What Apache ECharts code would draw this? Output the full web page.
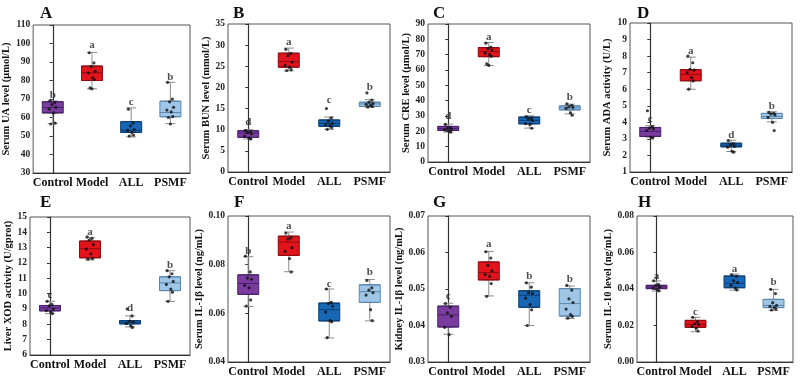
<!DOCTYPE html>
<html><head><meta charset="utf-8">
<script src="https://cdn.jsdelivr.net/npm/echarts@6/dist/echarts.min.js"></script>
<style>html,body{margin:0;padding:0;background:#fff}#c{width:800px;height:379px}</style>
</head><body><div id="c"></div>
<script>
const CATS = ['Control','Model','ALL','PSMF'];

// [min, Q1, median, Q3, max]
const A_BOX = [[56.7,62.5,65.4,68.5,69],[75.5,80,84.2,87.8,95.2],[49.5,51.9,53.1,57.7,65.2],[56.7,60.4,62.7,68.8,79]];
const A_PTS = [[69,68,67,65.5,64.5,62.5,57,56.5],[95,89.5,87.5,85,84,81.5,80.5,76,75.5],[64.5,57,55.5,53.5,53,52,50.5,50],[79,70,68.5,65.5,64,63,60.5,60,56.5]];
const A_LET = ['b','a','c','b'];
const A_LETY = [72.1,99.2,68.5,82];
const A_AXIS = [30,110,10];

const B_BOX = [[7.8,8.2,9.2,9.75,10],[23.9,24.8,26.1,28.1,29.3],[10.1,10.8,11.5,12.3,13],[15.3,15.5,16.1,16.5,17.1]];
const B_PTS = [[9.8,9.5,9.3,9,8.5,8,7.8],[29,28,27.5,26,25.2,24.8,24.2,24],[15,12.8,12,11.5,11.2,11,10.5,10.1],[18.7,17,16.5,16.2,16,15.8,15.5,15.4]];
const B_LET = ['d','a','c','b'];
const B_LETY = [11.8,30.6,17.1,20];
const B_AXIS = [0,35,5];

const C_BOX = [[19.5,20.6,21.9,23.2,24.7],[62.9,68.7,72,74.6,77.9],[22.1,24.9,27.1,29.3,30.1],[31.4,34,35.3,36.6,37.7]];
const C_PTS = [[24.5,22.5,22,21.5,21,20,19.5],[77.5,75,74,73,71,70,69,64,63],[29.5,28.5,28,27,25,24.5,22],[38,37,36,35.5,35,32,30.5]];
const C_LET = ['d','a','c','b'];
const C_LETY = [29.7,81.3,34,42.3];
const C_AXIS = [0,90,10];

const D_BOX = [[3.1,3.15,3.45,3.69,3.8],[6.0,6.51,6.9,7.18,7.94],[2.24,2.52,2.62,2.74,2.92],[4.03,4.23,4.35,4.54,4.64]];
const D_PTS = [[4.7,3.75,3.65,3.6,3.5,3.1,3.05],[8.0,7.6,7.2,7.15,7.0,6.7,6.5,6.0],[2.9,2.7,2.65,2.55,2.5,2.25,2.2],[4.6,4.55,4.5,4.45,4.3,4.0,3.5]];
const D_LET = ['c','a','d','b'];
const D_LETY = [4.2,8.3,3.25,5.0];
const D_AXIS = [1,10,1];

const E_BOX = [[8.7,8.88,9.07,9.23,9.5],[12.2,12.34,12.93,13.43,13.65],[7.83,8.03,8.14,8.25,8.55],[9.5,10.2,10.7,11.1,11.5]];
const E_PTS = [[9.5,9.3,9.2,9.0,8.9,8.8,8.7],[13.7,13.6,13.5,13.2,12.9,12.6,12.3,12.25],[9.0,8.55,8.2,8.15,8.05,7.9,7.8],[11.5,11.3,11.1,10.8,10.6,10.3,10.1,9.5]];
const E_LET = ['c','a','d','b'];
const E_LETY = [9.92,14.0,9.07,11.88];
const E_AXIS = [6,15,1];

const F_BOX = [[0.0628,0.0678,0.0723,0.0758,0.0833],[0.0771,0.0838,0.0893,0.0917,0.0934],[0.0499,0.0569,0.0615,0.0642,0.070],[0.0569,0.0645,0.0689,0.0717,0.0739]];
const F_PTS = [[0.0835,0.077,0.0745,0.074,0.0715,0.0705,0.0655,0.063],[0.093,0.091,0.0905,0.087,0.0855,0.0825,0.077],[0.070,0.0645,0.064,0.063,0.0605,0.057,0.0565,0.050],[0.0735,0.0705,0.0695,0.0685,0.0675,0.0615,0.057]];
const F_LET = ['b','a','c','b'];
const F_LETY = [0.0854,0.0957,0.0718,0.0769];
const F_AXIS = [0.04,0.10,0.02];

const G_BOX = [[0.0376,0.0396,0.0429,0.0453,0.0461],[0.0481,0.0525,0.0545,0.0574,0.0603],[0.040,0.045,0.0483,0.0495,0.0517],[0.0419,0.0426,0.046,0.0501,0.0508]];
const G_PTS = [[0.046,0.045,0.0435,0.0425,0.0395,0.0375],[0.0602,0.0585,0.0565,0.055,0.054,0.0535,0.0515,0.048],[0.0517,0.0505,0.049,0.0488,0.0475,0.0457,0.0443,0.040],[0.051,0.0497,0.0473,0.0463,0.0445,0.043,0.0425,0.042]];
const G_LET = ['c','a','b','b'];
const G_LETY = [0.0481,0.0622,0.0534,0.0527];
const G_AXIS = [0.03,0.07,0.01];

const H_BOX = [[0.0389,0.0402,0.0411,0.042,0.0444],[0.0166,0.019,0.0206,0.0228,0.0245],[0.0393,0.0407,0.0431,0.0471,0.0482],[0.0283,0.0298,0.031,0.0343,0.0398]];
const H_PTS = [[0.0445,0.0425,0.042,0.041,0.0405,0.0395,0.039],[0.0245,0.022,0.021,0.0205,0.0195,0.0185,0.017],[0.0478,0.047,0.0445,0.0435,0.042,0.0405,0.0395],[0.0398,0.0375,0.0325,0.031,0.0305,0.030,0.029,0.0285]];
const H_LET = ['a','c','a','b'];
const H_LETY = [0.0468,0.0274,0.0511,0.0435];
const H_AXIS = [0,0.08,0.02];

const NAMES = ['Serum UA level (μmol/L)','Serum BUN level (mmol/L)','Serum CRE level (μmol/L)','Serum ADA activity (U/L)',
  'Liver XOD activity (U/gprot)','Serum IL-1β level (ng/mL)','Kidney IL-1β level (ng/mL)','Serum IL-10 level (ng/mL)'];
const PANEL_TAGS = ['A','B','C','D','E','F','G','H'];
const DECIMALS = [0,0,0,0,0,2,2,2];

// styling / layout
const FILL = ['#7a3c9f','#e3131c','#1767b4','#9fc6e7'];
const EDGE = ['#47206a','#8f0b12','#0c3d72','#5b87ae'];
const JITTER = [-0.07,0.05,-0.02,0.08,-0.09,0.02,0.06,-0.05,0.0];
const LAYOUT = [
  {l:32,t:25,w:158,h:148,gap:15,tx:40,ty:13},
  {l:228,t:24,w:162,h:148,gap:15,tx:233,ty:13},
  {l:428,t:24,w:162,h:138,gap:14,tx:433,ty:13},
  {l:630,t:23,w:162,h:149,gap:17,tx:637,ty:13},
  {l:30,t:217,w:160,h:138,gap:16,tx:40,ty:202},
  {l:228,t:216,w:162,h:146,gap:17,tx:234,ty:202},
  {l:428,t:216,w:162,h:146,gap:20,tx:433,ty:202},
  {l:637,t:216,w:156,h:146,gap:22,tx:638,ty:202}
];
const PANELS = [
  [A_BOX,A_PTS,A_LET,A_LETY,A_AXIS],[B_BOX,B_PTS,B_LET,B_LETY,B_AXIS],
  [C_BOX,C_PTS,C_LET,C_LETY,C_AXIS],[D_BOX,D_PTS,D_LET,D_LETY,D_AXIS],
  [E_BOX,E_PTS,E_LET,E_LETY,E_AXIS],[F_BOX,F_PTS,F_LET,F_LETY,F_AXIS],
  [G_BOX,G_PTS,G_LET,G_LETY,G_AXIS],[H_BOX,H_PTS,H_LET,H_LETY,H_AXIS]
];

const FONT = '"Liberation Serif", "Times New Roman", serif';
const grid = [], xAxis = [], yAxis = [], series = [], graphic = [];

PANELS.forEach((p, k) => {
  const [box, pts, lets, letY, ax] = p;
  const L = LAYOUT[k];
  grid.push({left:L.l, top:L.t, width:L.w, height:L.h, show:true, borderColor:'#555', borderWidth:1, backgroundColor:'transparent'});
  xAxis.push({type:'category', gridIndex:k, data:CATS, boundaryGap:true,
    axisLine:{lineStyle:{color:'#333', width:1.2}}, axisTick:{show:false},
    axisLabel:{interval:0, hideOverlap:false, fontFamily:FONT, fontWeight:'bold', fontSize:12, color:'#111', margin:4}});
  xAxis.push({type:'category', gridIndex:k, data:CATS, show:false});
  xAxis.push({type:'value', gridIndex:k, min:-0.5, max:3.5, show:false});
  const dec = DECIMALS[k];
  yAxis.push({type:'value', gridIndex:k, min:ax[0], max:ax[1], interval:ax[2],
    name:NAMES[k], nameLocation:'middle', nameGap:L.gap,
    nameTextStyle:{fontFamily:FONT, fontWeight:'bold', fontSize:10.5, color:'#111'},
    axisLine:{show:true, lineStyle:{color:'#333', width:1.2}},
    axisTick:{show:true, length:3, lineStyle:{color:'#333'}},
    splitLine:{show:false},
    axisLabel:{fontFamily:FONT, fontWeight:'bold', fontSize:9.5, color:'#222', margin:3,
      formatter:v => Number(v).toFixed(dec)}});
  // whiskers
  series.push({type:'boxplot', xAxisIndex:3*k, yAxisIndex:k, boxWidth:[10,10], z:2,
    itemStyle:{color:'#fff', borderColor:'#8c8c8c', borderWidth:1},
    data: box.map(b => b.slice())});
  // boxes
  series.push({type:'boxplot', xAxisIndex:3*k+1, yAxisIndex:k, boxWidth:[21,21], z:3,
    data: box.map((b,i) => ({value:[b[1],b[1],b[2],b[3],b[3]],
      itemStyle:{color:FILL[i], borderColor:EDGE[i], borderWidth:1}}))});
  // points
  const sd = [];
  pts.forEach((arr,i) => arr.forEach((v,j) => sd.push([i + JITTER[j % JITTER.length], v])));
  series.push({type:'scatter', xAxisIndex:3*k+2, yAxisIndex:k, z:5, symbolSize:3.2,
    itemStyle:{color:'#111'}, data:sd});
  // letters
  series.push({type:'scatter', xAxisIndex:3*k+2, yAxisIndex:k, z:6, symbolSize:1,
    itemStyle:{color:'transparent'},
    label:{show:true, position:'inside', fontFamily:FONT, fontWeight:'bold', fontSize:11, color:'#222',
      formatter: q => lets[q.dataIndex]},
    data: letY.map((v,i) => [i, v])});
  graphic.push({type:'text', left:L.tx, top:L.ty - 8, style:{text:PANEL_TAGS[k], font:'bold 17px ' + FONT, fill:'#111'}});
});

const chart = echarts.init(document.getElementById('c'), null, {renderer:'canvas'});
chart.setOption({animation:false, backgroundColor:'#fff', grid, xAxis, yAxis, series, graphic});
</script></body></html>
